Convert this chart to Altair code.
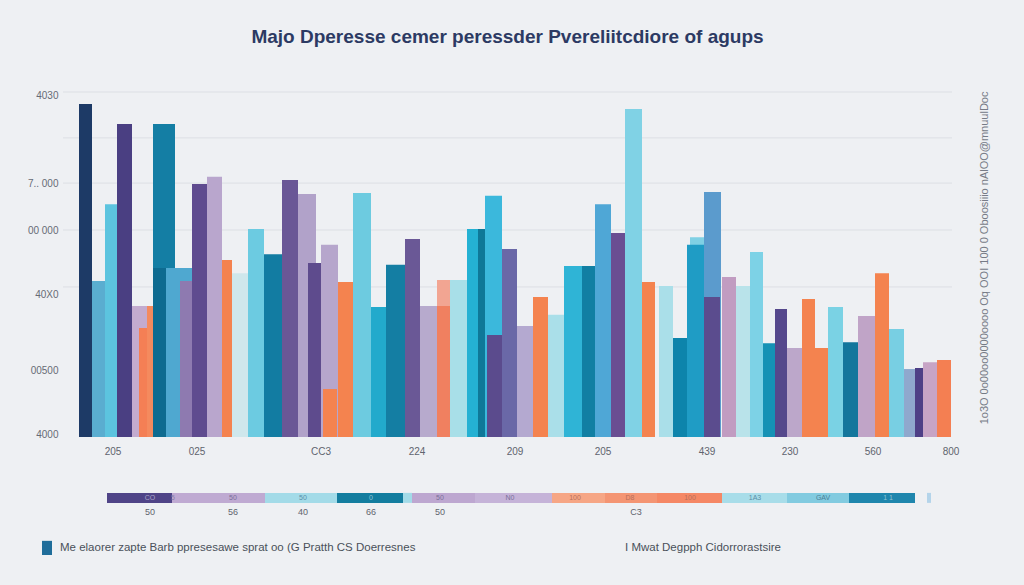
import altair as alt
import pandas as pd

TITLE = "Majo Dperesse cemer peressder Pvereliitcdiore of agups"

# ---- bars (x units = horizontal position, value = height) ----
bar_left = [79, 92, 105, 117, 132, 139, 147, 153, 153, 166, 180, 192, 207, 222, 232, 248,
            264, 282, 298, 308, 321, 323, 338, 353, 371, 386, 405, 420, 437, 437, 450, 467,
            478, 485, 487, 502, 517, 533, 548, 564, 582, 595, 611, 625, 642, 659, 673, 690,
            687, 704, 704, 722, 736, 750, 763, 775, 787, 802, 815, 828, 843, 858, 875, 889,
            904, 915, 923, 937]
bar_right = [92, 105, 117, 132, 147, 149, 153, 175, 166, 192, 192, 207, 222, 232, 248, 264,
             282, 298, 316, 323, 338, 337, 353, 371, 386, 406, 420, 437, 450, 450, 467, 485,
             485, 502, 502, 517, 533, 548, 564, 582, 595, 611, 626, 642, 655, 673, 687, 704,
             704, 721, 720, 736, 750, 763, 775, 787, 802, 815, 828, 843, 858, 875, 889, 904,
             915, 923, 937, 951]
bar_value = [96.5, 45.2, 67.5, 90.7, 38.0, 31.6, 38.0, 90.7, 49.0, 49.0, 45.2, 73.3, 75.4, 51.3, 47.5, 60.3,
             53.0, 74.5, 70.4, 50.4, 55.7, 13.9, 44.9, 70.7, 37.7, 49.9, 57.4, 38.0, 45.5, 38.0, 45.5, 60.3,
             60.3, 69.9, 29.6, 54.5, 32.2, 40.6, 35.4, 49.6, 49.6, 67.5, 59.1, 95.1, 44.9, 43.8, 28.7, 57.9,
             55.7, 71.0, 40.6, 46.4, 43.8, 53.6, 27.2, 37.1, 25.8, 40.0, 25.8, 37.7, 27.5, 35.1, 47.5, 31.3,
             19.7, 20.0, 21.7, 22.3]
bar_color = ["#1d3a66", "#5aadd0", "#5cc4df", "#4a3f82", "#c3abcf", "#f47f55", "#f48a5e", "#147ea4",
             "#0e6b90", "#4fa8d0", "#8e7ab0", "#5f4b8f", "#b9a6cd", "#f4824f", "#cfe7ec", "#6ccbe1",
             "#127ca2", "#6a5796", "#b1a2c9", "#5e4b8d", "#b6a6cc", "#f4834f", "#f4834f", "#6dcbe0",
             "#22aacc", "#147ea3", "#6a5896", "#b7aacd", "#f2a592", "#f08060", "#a8dfe8", "#24b1d3",
             "#0e7898", "#3bb8dc", "#5b4b8d", "#6a68a7", "#b4a9d0", "#f4834f", "#aadfe9", "#2fb4d6",
             "#117fa3", "#4fa7d6", "#6a4e92", "#80d2e5", "#f4834f", "#aadfe9", "#0d84ab", "#7fd0e4",
             "#1f9cc5", "#5b9bcd", "#5b4c8e", "#c19cc1", "#b9e3ea", "#7dd2e6", "#1592b5", "#55488c",
             "#bca7ca", "#f4834f", "#f4834f", "#7ad2e4", "#13769c", "#c0a4c7", "#f4834f", "#78cfe3",
             "#8fa8cd", "#4e3f86", "#c7a4c5", "#f47f52"]

# ---- y axis ticks & gridlines ----
ytick_vals = [99.1, 73.6, 60.0, 41.2, 19.4, 0.6]
ytick_text = ["4030", "7.. 000", "00 000", "40X0", "00500", "4000"]
grid_vals = [100, 86.7, 73.6, 60.0, 43.5]

# ---- category labels under the bars ----
xlab_pos = [113, 197, 321, 417, 515, 603, 707, 790, 873, 951]
xlab_text = ["205", "025", "CC3", "224", "209", "205", "439", "230", "560", "800"]
xlab_level = -4.3

# ---- segmented strip ----
seg_left = [107, 172, 265, 337, 403, 412, 475, 552, 605, 657, 722, 787, 849, 927]
seg_right = [172, 265, 337, 403, 412, 475, 552, 605, 657, 722, 787, 849, 915, 931]
seg_color = ["#4f4487", "#bfaad2", "#a3dbe8", "#137d9f", "#a3dbe8", "#bda7d0", "#c5b3d8",
             "#f6a685", "#f49573", "#f58865", "#a8dde9", "#82cbe0", "#1f86ad", "#b4d4ea"]
seg_lab_pos = [150, 173, 233, 303, 371, 440, 510, 575, 630, 690, 755, 823, 888]
seg_lab_text = ["CO", "5", "50", "50", "0", "50", "N0", "100", "D8", "100", "1A3", "GAV", "1 1"]
seg_lab_color = ["#a9a3c8", "#8a7fa8", "#7a6f98", "#5a8fa8", "#8ec3d3", "#7a6f98", "#7a6f98",
                 "#b8705a", "#b8705a", "#b8705a", "#5a8fa8", "#4a7f98", "#8ec3d3"]
strip_top, strip_bottom, strip_mid = -16.2, -19.1, -17.7
sub_pos = [150, 233, 303, 371, 440, 636]
sub_text = ["50", "56", "40", "66", "50", "C3"]
sub_level = -21.8

# ---- bottom legend ----
legend_left = [42]
legend_right = [52]
legend_top, legend_bottom = -30.1, -34.2
legend_text_pos = [60, 625]
legend_text = ["Me elaorer zapte Barb ppresesawe sprat oo (G Pratth CS Doerresnes",
               "I Mwat Degpph Cidorrorastsire"]
legend_level = -32.3

# ---- right vertical note ----
side_pos = [985]
side_level = [51.9]
side_text = ["1o3O 0o00oo0000oooo Oq OOI 100 0 Oboosiiio nAlOO@mnuulDoc"]

W, H = 889, 345
XD = [63, 952]
xs = alt.Scale(domain=XD, nice=False, zero=False)
ys = alt.Scale(domain=[0, 100], nice=False, zero=False)

label_expr = " : ".join(
    f"abs(datum.value - {v}) < 0.01 ? '{t}'" for v, t in zip(ytick_vals, ytick_text)
) + " : ''"
yaxis = alt.Axis(values=ytick_vals, labelExpr=label_expr, grid=False, domain=False, ticks=False,
                 labelPadding=5, labelFontSize=10, labelColor="#666b75", labelFont="Liberation Sans",
                 title=None)

bars = pd.DataFrame({"x0": bar_left, "x1": bar_right, "v": bar_value, "b": 0.0, "c": bar_color})
grid = pd.DataFrame({"v": grid_vals})
xl = pd.DataFrame({"x": xlab_pos, "t": xlab_text, "v": xlab_level})
seg = pd.DataFrame({"x0": seg_left, "x1": seg_right, "v": strip_top, "b": strip_bottom, "c": seg_color})
segl = pd.DataFrame({"x": seg_lab_pos, "t": seg_lab_text, "v": strip_mid, "c": seg_lab_color})
sub = pd.DataFrame({"x": sub_pos, "t": sub_text, "v": sub_level})
leg = pd.DataFrame({"x0": legend_left, "x1": legend_right, "v": legend_top, "b": legend_bottom, "c": ["#1f6d9a"]})
legt = pd.DataFrame({"x": legend_text_pos, "t": legend_text, "v": legend_level})
side = pd.DataFrame({"x": side_pos, "t": side_text, "v": side_level})

Y = alt.Y("v:Q", scale=ys, axis=yaxis)

grid_layer = alt.Chart(grid).mark_rule(color="#dcdfe4", strokeWidth=1).encode(
    y=Y, x=alt.value(0), x2=alt.value(W))

def rects(df):
    return alt.Chart(df).mark_rect().encode(
        x=alt.X("x0:Q", scale=xs, axis=None), x2="x1:Q",
        y=Y, y2="b:Q", color=alt.Color("c:N", scale=None))

def texts(df, **kw):
    return alt.Chart(df).mark_text(**kw).encode(
        x=alt.X("x:Q", scale=xs, axis=None), y=Y, text="t:N")

seg_text_layer = alt.Chart(segl).mark_text(fontSize=7, font="Liberation Sans").encode(
    x=alt.X("x:Q", scale=xs, axis=None), y=Y, text="t:N", color=alt.Color("c:N", scale=None))

chart = alt.layer(
    grid_layer,
    rects(bars),
    texts(xl, fontSize=10, color="#5f646e", font="Liberation Sans"),
    rects(seg),
    seg_text_layer,
    texts(sub, fontSize=9, color="#5f646e", font="Liberation Sans"),
    rects(leg),
    texts(legt, fontSize=11.5, color="#4a505a", align="left", font="Liberation Sans"),
    texts(side, fontSize=11, color="#767b86", angle=270, font="Liberation Sans"),
).properties(
    width=W, height=H,
    title=alt.TitleParams(TITLE, fontSize=19, font="Liberation Sans", fontWeight="bold",
                          color="#2c3a63", anchor="middle", offset=43),
    autosize=alt.AutoSizeParams(type="none"),
    padding={"left": 63, "top": 92, "right": 72, "bottom": 148},
    background="#eef0f3",
).configure_view(stroke=None)

chart.save("out.html", embed_options={"renderer": "svg", "actions": False})
